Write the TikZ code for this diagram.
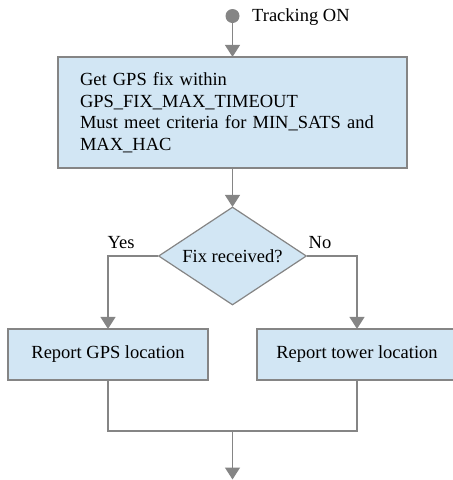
\documentclass[tikz,border=0pt]{standalone}
\usepackage{fontspec}
\setmainfont{Liberation Serif}
\usetikzlibrary{shapes.geometric,arrows.meta}
\definecolor{boxfill}{HTML}{D2E6F4}
\definecolor{lineclr}{HTML}{858585}
\begin{document}
\begin{tikzpicture}[x=1pt,y=-1pt,
  font=\fontsize{18.5}{21.5}\selectfont,
  flow/.style={draw=lineclr,line width=1.4pt},
  arr/.style={flow,-{Triangle[width=15pt,length=12pt]},shorten >=-0.5pt},
  procbox/.style={draw=lineclr,line width=1.2pt,fill=boxfill,inner sep=0pt,align=left},
  decision/.style={diamond,aspect=1.5,draw=lineclr,line width=1.2pt,fill=boxfill,inner sep=1pt,
    minimum width=148pt,minimum height=98pt},
  lbl/.style={inner sep=0pt}]
  \useasboundingbox (0,0) rectangle (453,480);

  % start point and label
  \node[circle,fill=lineclr,minimum size=14pt,inner sep=0pt] (start) at (232.5,16) {};
  \node[lbl,anchor=west] (startlbl) at (252,17) {Tracking ON};

  % main step
  \node[procbox,text width=305pt,minimum width=349pt,minimum height=111pt] (getfix) at (232.5,112.5)
    {Get GPS fix within\\GPS\_FIX\_MAX\_TIMEOUT\\Must meet criteria for MIN\_SATS and\\MAX\_HAC};

  % decision
  \node[decision] (fix) at (232.5,256) {Fix received?};

  % outcomes
  \node[procbox,minimum width=200pt,minimum height=51pt] (gps) at (108,354.5) {Report GPS location};
  \node[procbox,minimum width=200pt,minimum height=51pt] (tower) at (357,354.5) {Report tower location};

  \coordinate (join) at (232.5,431);
  \coordinate (out) at (232.5,479);

  % connectors
  \draw[arr] (start) -- (getfix.north);
  \draw[arr] (getfix.south) -- (fix.north);
  \draw[arr] (fix.west) -| (gps.north);
  \draw[arr] (fix.east) -| (tower.north);
  \draw[flow] (gps.south) |- (join) -| (tower.south);
  \draw[arr] (join) -- (out);

  % branch labels
  \node[lbl] (yes) at (121,243) {Yes};
  \node[lbl] (no) at (320,243) {No};
\end{tikzpicture}
\end{document}
